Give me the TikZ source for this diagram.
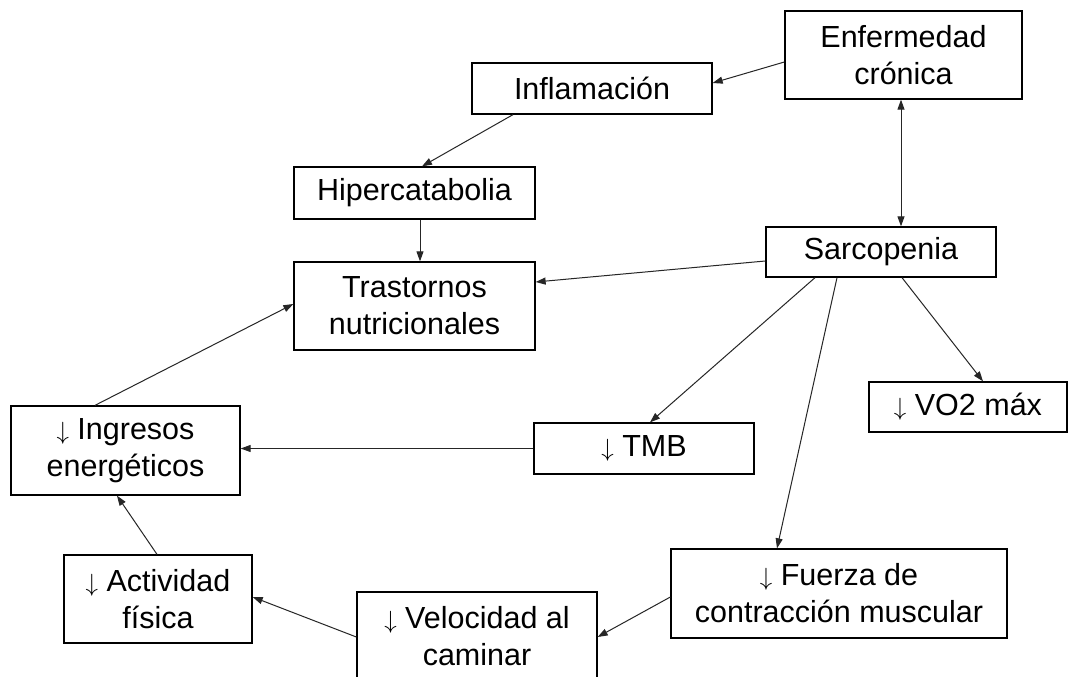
\documentclass[tikz,border=0pt]{standalone}
\usepackage{fontspec}
\setmainfont{Liberation Sans}
\usetikzlibrary{arrows.meta}
\begin{document}
\begin{tikzpicture}[x=1pt,y=-1pt,
  box/.style={draw=black,line width=1.3pt,rectangle,inner sep=0pt,align=center,
    font=\fontsize{30.5}{37}\selectfont},
  conn/.style={line width=1pt,draw=black!85,-{Triangle[length=10pt,width=7pt]}},
  dconn/.style={line width=1pt,draw=black!85,{Triangle[length=10pt,width=7pt]}-{Triangle[length=10pt,width=7pt]}}]
\useasboundingbox (0,0) rectangle (1082,677);
\fill[white] (0,0) rectangle (1082,677);
% nodes
\node[box,minimum width=237pt,minimum height=88pt] (enf) at (903.5,55) {Enfermedad\\crónica};
\node[box,minimum width=240pt,minimum height=51pt] (infl) at (592,88.5) {Inflamación};
\node[box,minimum width=241pt,minimum height=52pt] (hiper) at (414.5,193) {Hipercatabolia};
\node[box,minimum width=241pt,minimum height=88pt] (tras) at (414.5,306) {Trastornos\\nutricionales};
\node[box,minimum width=230pt,minimum height=50pt] (sarc) at (881,252) {Sarcopenia};
\node[box,minimum width=220pt,minimum height=51pt] (tmb) at (644,448.5) {$\downarrow$ TMB};
\node[box,minimum width=198pt,minimum height=50pt] (vo2) at (968,407) {$\downarrow$ VO2 máx};
\node[box,minimum width=229pt,minimum height=89pt] (ingr) at (125.5,450.5) {$\downarrow$ Ingresos\\energéticos};
\node[box,minimum width=188pt,minimum height=88pt] (act) at (158,599) {$\downarrow$ Actividad\\física};
\node[box,minimum width=336pt,minimum height=89pt] (fuer) at (839,593.5) {$\downarrow$ Fuerza de\\contracción muscular};
\node[box,minimum width=240pt,minimum height=88pt] (vel) at (477,636) {$\downarrow$ Velocidad al\\caminar};
% connectors
\draw[conn] ([yshift=-7pt]enf.west) -- ([yshift=5.5pt]infl.east);
\draw[conn] ([xshift=-79pt]infl.south) -- ([xshift=7.5pt]hiper.north);
\draw[conn] ([xshift=5.5pt]hiper.south) -- ([xshift=5.5pt]tras.north);
\draw[dconn] ([xshift=-2.5pt]enf.south) -- ([xshift=20pt]sarc.north);
\draw[conn] ([yshift=-9pt]sarc.west) -- ([yshift=24pt]tras.east);
\draw[conn] ([xshift=-66pt]sarc.south) -- ([xshift=6pt]tmb.north);
\draw[conn] ([xshift=-44pt]sarc.south) -- ([xshift=-62pt]fuer.north);
\draw[conn] ([xshift=21pt]sarc.south) -- ([xshift=15pt]vo2.north);
\draw[conn] (tmb.west) -- (tmb.west -| ingr.east);
\draw[conn] ([xshift=-30.5pt]ingr.north) -- ([yshift=2pt]tras.west);
\draw[conn] ([xshift=-1pt]act.north) -- ([xshift=-8.5pt]ingr.south);
\draw[conn] ([yshift=-1pt]vel.west) -- ([yshift=2pt]act.east);
\draw[conn] ([yshift=-3.5pt]fuer.west) -- ([yshift=-1pt]vel.east);
\end{tikzpicture}
\end{document}
